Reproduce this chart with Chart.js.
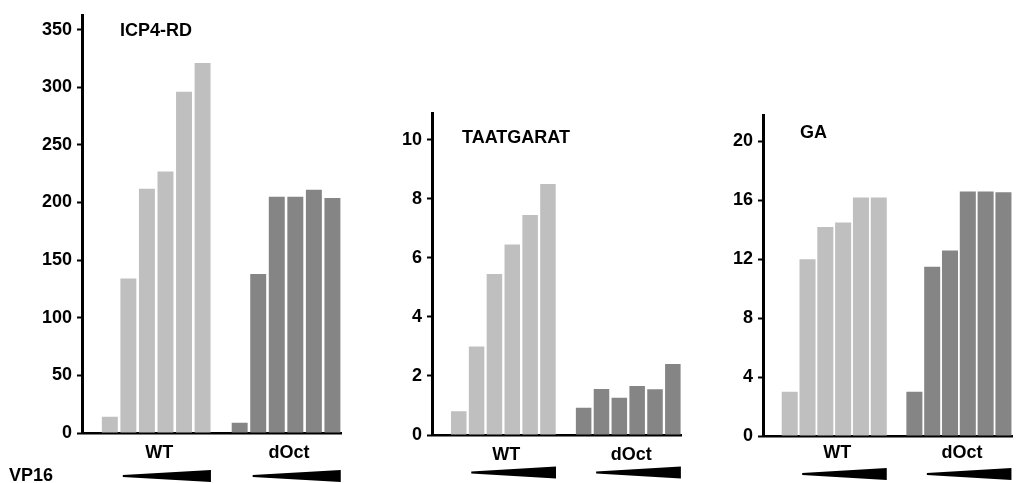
<!DOCTYPE html>
<html>
<head>
<meta charset="utf-8">
<script src="https://cdn.jsdelivr.net/npm/chart.js@4"></script>
<style>
  body { margin: 0; background: #fff; }
  #wrap { position: relative; width: 1020px; height: 483px; }
  canvas { position: absolute; top: 0; }
</style>
</head>
<body>
<div id="wrap">
  <canvas id="c1" width="350" height="483" style="left:0"></canvas>
  <canvas id="c2" width="340" height="483" style="left:350px"></canvas>
  <canvas id="c3" width="330" height="483" style="left:690px"></canvas>
</div>
<script>
// groups and VP16 dose steps
const groups = ['WT', 'dOct'];
const doses = [1, 2, 3, 4, 5, 6];

// ICP4-RD
const icp4WT = [14, 134, 212, 227, 296, 321];
const icp4dOct = [9, 138, 205, 205, 211, 204];
const icp4Ticks = [0, 50, 100, 150, 200, 250, 300, 350];

// TAATGARAT
const taatWT = [0.8, 3.0, 5.45, 6.45, 7.45, 8.5];
const taatdOct = [0.92, 1.56, 1.26, 1.66, 1.55, 2.4];
const taatTicks = [0, 2, 4, 6, 8, 10];

// GA
const gaWT = [3.0, 12.0, 14.2, 14.5, 16.2, 16.2];
const gadOct = [3.0, 11.5, 12.6, 16.6, 16.6, 16.55];
const gaTicks = [0, 4, 8, 12, 16, 20];

const FAMILY = '"Liberation Sans", Arial, Helvetica, sans-serif';
const FONT = 'bold 18px ' + FAMILY;
const lightGrey = '#bfbfbf';
const darkGrey = '#858585';

// one blank slot before each group
const slotLabels = ['', ...doses.map(d => 'WT ' + d), ' ', ...doses.map(d => 'dOct ' + d)];
const slotColors = ['#fff', ...doses.map(() => lightGrey), '#fff', ...doses.map(() => darkGrey)];

function decor(p) {
    return {
        id: 'decor',
        afterDraw(chart) {
            const ctx = chart.ctx, x = chart.scales.x;
            const w = x.getPixelForValue(1) - x.getPixelForValue(0);
            ctx.save();
            ctx.fillStyle = '#000';
            ctx.font = FONT;
            ctx.textBaseline = 'middle';
            ctx.textAlign = 'left';
            ctx.fillText(p.title, p.titleX, p.titleY);
            if (p.vp16) ctx.fillText('VP16', 9, 476);
            ctx.textAlign = 'center';
            [[1, 6], [8, 13]].forEach(([a, b], i) => {
                const xa = x.getPixelForValue(a), xb = x.getPixelForValue(b);
                ctx.fillText(groups[i], (xa + xb) / 2 + 3, p.labelY);
                // VP16 wedge
                const x0 = xa + 0.7 * w, x1 = xb + 0.45 * w, y = p.wedgeY;
                ctx.beginPath();
                ctx.moveTo(x0, y - 1);
                ctx.lineTo(x1, y - 6);
                ctx.lineTo(x1, y + 6);
                ctx.lineTo(x0, y + 1);
                ctx.closePath();
                ctx.fill();
            });
            ctx.restore();
        }
    };
}

function panel(id, p) {
    const canvas = document.getElementById(id);
    return new Chart(canvas, {
        type: 'bar',
        data: {
            labels: slotLabels,
            datasets: [{
                data: [null, ...p.wt, null, ...p.oct],
                backgroundColor: slotColors,
                borderWidth: 0,
                barPercentage: p.barPct,
                categoryPercentage: 1
            }]
        },
        options: {
            responsive: false,
            animation: false,
            layout: {
                padding: {
                    left: 0,
                    top: p.top,
                    bottom: canvas.height - p.bottom,
                    right: canvas.width - (p.axisX + 14 * p.slot)
                }
            },
            plugins: { legend: { display: false }, tooltip: { enabled: false } },
            scales: {
                x: {
                    afterFit(s) { s.height = 0; },
                    grid: { display: false },
                    border: { display: true, color: '#000', width: 2.5 },
                    ticks: { display: false }
                },
                y: {
                    min: 0,
                    max: p.max,
                    afterFit(s) { s.width = p.axisX; },
                    afterBuildTicks(s) { s.ticks = p.ticks.map(v => ({ value: v })); },
                    grid: { display: true, drawOnChartArea: false, tickLength: 5, tickWidth: 2, tickColor: '#000' },
                    border: { display: true, color: '#000', width: 3 },
                    ticks: { color: '#000', padding: 5, font: { family: FAMILY, size: 18, weight: 'bold' } }
                }
            }
        },
        plugins: [decor(p)]
    });
}

panel('c1', {
    wt: icp4WT, oct: icp4dOct, ticks: icp4Ticks, max: 362,
    axisX: 82, slot: 18.55, top: 15, bottom: 433, barPct: 0.86,
    title: 'ICP4-RD', titleX: 120, titleY: 31, labelY: 453, wedgeY: 476, vp16: true
});
panel('c2', {
    wt: taatWT, oct: taatdOct, ticks: taatTicks, max: 10.9,
    axisX: 82, slot: 17.84, top: 113, bottom: 435, barPct: 0.87,
    title: 'TAATGARAT', titleX: 112, titleY: 138, labelY: 455, wedgeY: 472.5
});
panel('c3', {
    wt: gaWT, oct: gadOct, ticks: gaTicks, max: 21.8,
    axisX: 73, slot: 17.81, top: 115, bottom: 436, barPct: 0.9,
    title: 'GA', titleX: 110, titleY: 133, labelY: 453, wedgeY: 474
});
</script>
</body>
</html>
